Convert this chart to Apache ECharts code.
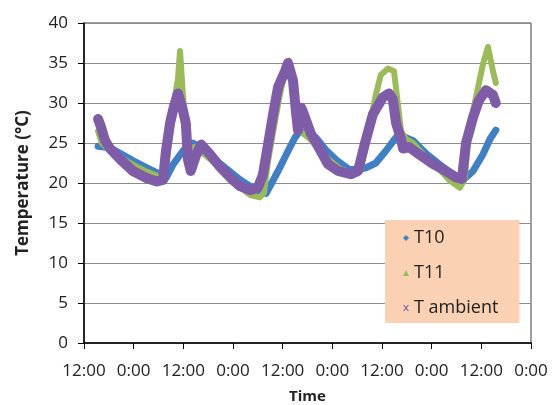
<!DOCTYPE html>
<html>
<head>
<meta charset="utf-8">
<script src="https://cdn.jsdelivr.net/npm/echarts@6/dist/echarts.min.js"></script>
<style>
  html, body { margin: 0; padding: 0; background: #fff; }
  #chart { width: 559px; height: 405px; }
</style>
</head>
<body>
<div id="chart"></div>
<script>
// hours from the first 12:00 tick, temperature in °C
var t10 = [
  [3.4, 24.6], [6.3, 24.4], [8.7, 23.7], [11.8, 22.8], [15.2, 21.9], [17.6, 21.3],
  [19.1, 20.7], [19.8, 20.6], [21.5, 22.3], [23.9, 24.0], [25.6, 24.9], [26.3, 25.0],
  [28.0, 24.5], [30.4, 23.5], [32.9, 22.4], [35.3, 21.4], [37.7, 20.4], [40.1, 19.6],
  [42.5, 18.9], [44.0, 18.7], [46.9, 21.5], [49.3, 24.0], [51.0, 25.7], [52.2, 26.5],
  [53.4, 26.3], [56.0, 25.7], [58.5, 24.1], [60.9, 22.9], [64.0, 21.7], [66.4, 21.7],
  [68.1, 21.9], [70.5, 22.5], [72.9, 24.0], [75.4, 25.7], [76.3, 26.0], [79.5, 25.3],
  [82.6, 23.7], [85.7, 22.4], [89.1, 21.1], [91.5, 20.3], [94.0, 21.5], [96.4, 23.6],
  [98.1, 25.5], [99.5, 26.6]
];
var t11 = [
  [3.4, 26.5], [4.3, 25.0], [6.3, 24.0], [8.7, 23.2], [11.8, 22.3], [15.2, 21.4],
  [17.6, 20.9], [18.8, 20.7], [19.8, 22.0], [20.8, 26.0], [21.7, 30.0], [22.7, 33.0],
  [23.2, 36.5], [23.9, 31.0], [24.6, 26.0], [25.6, 24.0], [26.6, 24.5], [28.0, 24.0],
  [30.4, 23.0], [32.9, 21.9], [35.3, 20.7], [37.7, 19.5], [40.1, 18.5], [42.5, 18.2],
  [43.5, 18.8], [44.4, 22.5], [45.9, 27.0], [47.3, 31.0], [48.8, 34.5], [49.5, 35.3],
  [50.2, 33.0], [51.0, 28.0], [51.7, 26.6], [52.7, 26.3], [54.6, 25.5], [57.0, 24.2],
  [59.4, 22.8], [61.8, 21.8], [64.7, 21.2], [66.7, 21.5], [67.6, 23.5], [69.1, 27.5],
  [70.5, 31.0], [71.7, 33.5], [73.4, 34.3], [74.9, 34.0], [75.8, 30.0], [76.6, 26.5],
  [77.8, 25.5], [79.5, 25.0], [82.6, 23.2], [85.7, 21.8], [88.4, 20.3], [90.8, 19.4],
  [92.0, 20.5], [93.0, 26.6], [94.7, 30.7], [96.4, 34.9], [97.6, 37.0], [98.8, 34.0],
  [99.5, 32.5]
];
var tAmbient = [
  [3.4, 28.0], [4.1, 27.0], [5.1, 25.3], [6.3, 24.3], [8.7, 23.0], [11.8, 21.5],
  [15.2, 20.6], [17.6, 20.2], [19.1, 20.4], [19.8, 24.0], [20.8, 27.5], [21.7, 29.5],
  [22.7, 31.2], [23.7, 29.5], [24.6, 27.5], [25.1, 23.0], [25.8, 21.5], [27.1, 23.5],
  [28.3, 24.8], [30.4, 23.6], [32.9, 22.0], [35.3, 20.7], [37.7, 19.6], [40.1, 19.1],
  [42.0, 19.4], [43.2, 21.0], [44.2, 24.0], [45.7, 28.6], [46.9, 32.0], [48.6, 34.0],
  [49.3, 35.0], [50.5, 32.8], [51.2, 29.0], [51.7, 26.6], [52.5, 29.4], [53.4, 28.2],
  [54.8, 26.2], [57.2, 24.0], [58.9, 22.4], [61.4, 21.5], [64.5, 21.1], [66.2, 21.5],
  [67.9, 25.0], [69.8, 28.6], [72.2, 30.7], [73.7, 31.2], [74.6, 30.5], [75.4, 27.5],
  [76.6, 25.5], [77.1, 24.3], [78.5, 24.5], [80.9, 23.6], [84.3, 22.4], [87.4, 21.5],
  [89.9, 20.7], [91.3, 20.5], [92.3, 25.0], [94.0, 28.2], [95.4, 30.3], [97.1, 31.6],
  [98.8, 31.0], [99.5, 30.0]
];
var seriesNames = ['T10', 'T11', 'T ambient'];
var timeLabels = ['12:00', '0:00'];

var chart = echarts.init(document.getElementById('chart'));
var font = 'Open Sans';

function makeLine(name, data, color, width) {
  return {
    name: name,
    type: 'line',
    data: data,
    showSymbol: false,
    color: color,
    lineStyle: { color: color, width: width, join: 'round', cap: 'round' }
  };
}

var option = {
  animation: false,
  backgroundColor: '#fff',
  grid: {
    left: 84, right: 28, top: 23, bottom: 62,
    outerBoundsMode: 'none',
    show: true, borderColor: '#404040', borderWidth: 1
  },
  legend: {
    orient: 'vertical',
    left: 385, top: 220,
    backgroundColor: '#FAD1B2',
    padding: [6, 21, 3, 18],
    itemWidth: 6, itemHeight: 6, itemGap: 11,
    textStyle: { fontFamily: font, fontSize: 18, color: '#222', lineHeight: 24 },
    data: [
      { name: seriesNames[0], icon: 'diamond' },
      { name: seriesNames[1], icon: 'triangle' },
      { name: seriesNames[2], icon: 'path://M0,0L2,0L5,3.5L8,0L10,0L6,5L10,10L8,10L5,6.5L2,10L0,10L4,5Z' }
    ]
  },
  xAxis: {
    type: 'value',
    min: 0, max: 108, interval: 12,
    name: 'Time', nameLocation: 'middle', nameGap: 46,
    nameTextStyle: { fontFamily: font, fontSize: 15, fontWeight: 'bold', color: '#222' },
    axisLine: { lineStyle: { color: '#000', width: 1.5 } },
    axisTick: { length: 6, lineStyle: { color: '#000' } },
    splitLine: { show: false },
    axisLabel: {
      fontFamily: font, fontSize: 17, color: '#222', margin: 20,
      formatter: function (v) { return timeLabels[(v / 12) % 2]; }
    }
  },
  yAxis: {
    type: 'value',
    min: 0, max: 40, interval: 5,
    name: 'Temperature (°C)', nameLocation: 'middle', nameGap: 52,
    nameTextStyle: { fontFamily: font, fontSize: 17, fontWeight: 'bold', color: '#222' },
    axisLine: { show: true, lineStyle: { color: '#000', width: 1.5 } },
    axisTick: { show: true, length: 6, lineStyle: { color: '#000' } },
    splitLine: { lineStyle: { color: '#8c8c8c', width: 1 } },
    axisLabel: { fontFamily: font, fontSize: 17, color: '#222', margin: 16 }
  },
  series: [
    makeLine(seriesNames[0], t10, '#3F7FC6', 7),
    makeLine(seriesNames[1], t11, '#9BBB59', 6),
    makeLine(seriesNames[2], tAmbient, '#7F5CA8', 10)
  ]
};

chart.setOption(option);
</script>
</body>
</html>
